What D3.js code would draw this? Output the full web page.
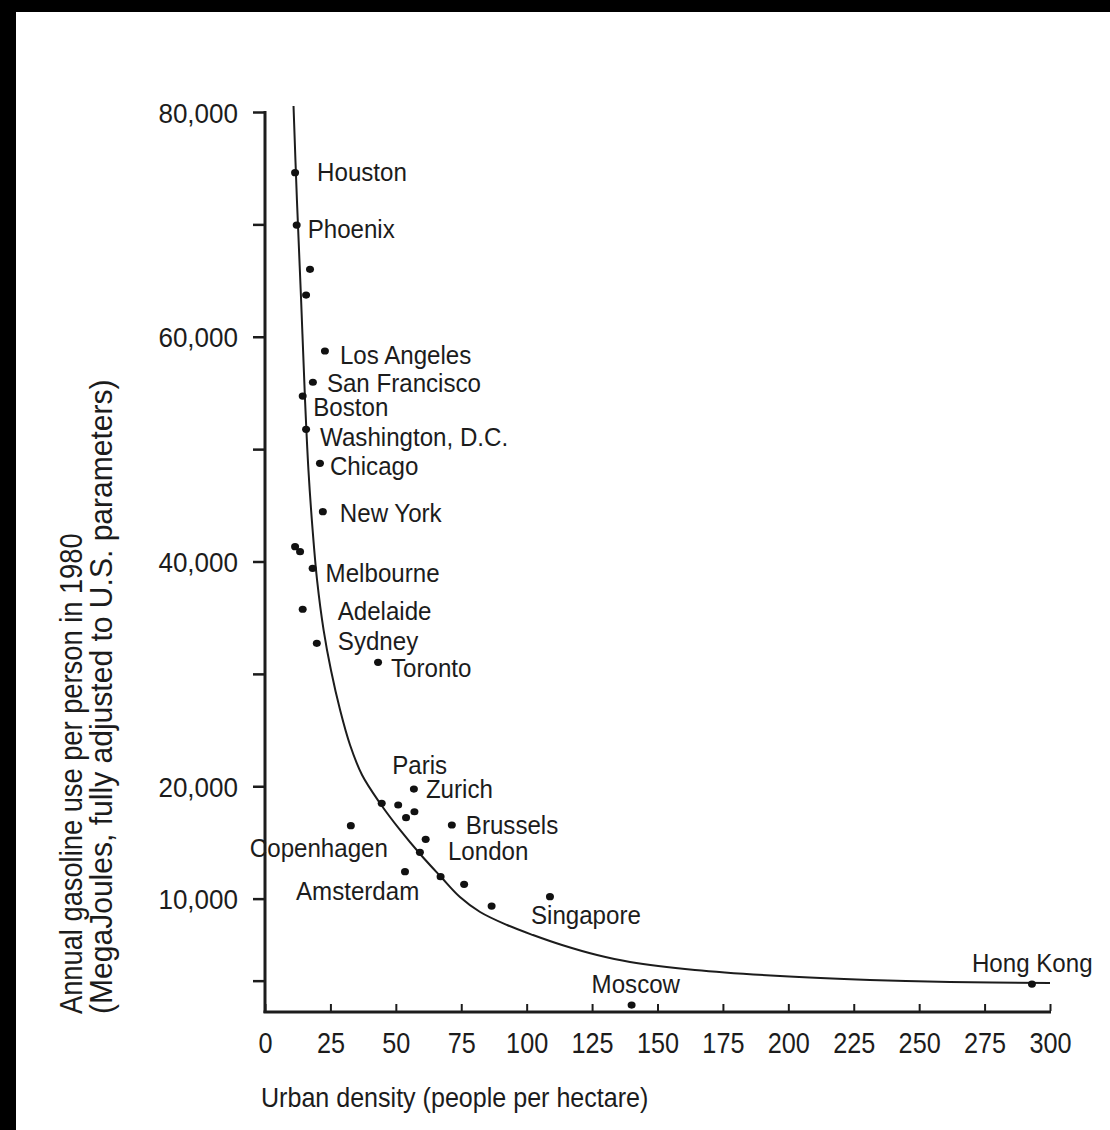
<!DOCTYPE html>
<html><head><meta charset="utf-8">
<script src="https://cdn.jsdelivr.net/npm/d3@7"></script>
<style>html,body{margin:0;padding:0;background:#000;} svg{display:block}</style>
</head><body><svg id="c" width="1110" height="1130"></svg>
<script>
// ---- data ----
const cities = ["Houston","Phoenix","","","Los Angeles","San Francisco","Boston","Washington, D.C.","Chicago","New York","","","Melbourne","Adelaide","Sydney","Toronto","","Paris","Zurich","","","Copenhagen","Brussels","","London","Amsterdam","","","","Singapore","Moscow","Hong Kong"];
const density = [11.5,12.1,17.2,15.7,22.9,18.3,14.4,15.7,21.0,22.1,11.5,13.4,18.2,14.4,19.8,43.2,44.6,50.9,56.9,53.9,57.1,32.8,71.4,61.4,59.2,53.5,67.1,76.1,86.6,108.9,140.1,293.1];
const gasoline = [74600,69940,66000,63710,58730,55950,54720,51760,48740,44430,41320,40870,39390,35750,32720,31030,18480,18330,19750,17200,17730,16490,16550,15280,14120,12400,11950,11270,9340,10170,530,2400];
const curveDensity = [10.9,12.2,13.8,15.3,16.6,18.2,19.9,22.4,25.2,28.7,32.5,37.1,43.9,51.6,59.6,67.3,74.5,82.2,92.5,102.4,113.5,126.9,139.5,164.3,196.8,231.2,261.8,300];
const curveGasoline = [80530,72170,63270,54370,48140,42800,38350,33900,30340,26780,23670,21000,18510,16110,13880,11920,10140,8810,7650,6760,5870,4980,4360,3650,3110,2760,2580,2490];
const xTicks = [0,25,50,75,100,125,150,175,200,225,250,275,300];
const yTicks = [80000,70000,60000,50000,40000,30000,20000,10000,2700];
const yTickLabels = ["80,000","","60,000","","40,000","","20,000","10,000",""];
const xTitle = "Urban density (people per hectare)";
const yTitle1 = "Annual gasoline use per person in 1980";
const yTitle2 = "(MegaJoules, fully adjusted to U.S. parameters)";

// ---- layout ----
const labelOffset = {
  "Houston":[22,8],"Phoenix":[11,13],"Los Angeles":[15,13],"San Francisco":[14,10],
  "Boston":[10.6,20],"Washington, D.C.":[14,17],"Chicago":[10,12],"New York":[17,10],
  "Melbourne":[13,14],"Adelaide":[35,11],"Sydney":[21,7],"Toronto":[13,15],
  "Paris":[-6,-31],"Zurich":[12,9],"Brussels":[14,9],"Copenhagen":[-101,31],
  "London":[28,8],"Amsterdam":[-109,28],"Singapore":[-19,27],"Moscow":[-40,-12],"Hong Kong":[-60,-12]
};
const FONT = "'Liberation Sans', Arial, Helvetica, sans-serif";
const INK = "#1c1c1c";

const svg = d3.select("#c");
svg.append("rect").attr("width",1110).attr("height",1130).attr("fill","#000");
svg.append("rect").attr("x",16).attr("y",12).attr("width",1094).attr("height",1118).attr("fill","#fff");

const x = d3.scaleLinear().domain([0,300]).range([265,1050]);
const y = d3.scaleLinear().domain([0,80000]).range([1011,112]);

// y axis
const yAxis = svg.append("g").attr("transform",`translate(${x(0)},0)`)
  .call(d3.axisLeft(y).tickValues(yTicks).tickSize(12).tickSizeOuter(0).tickFormat((d,i)=>yTickLabels[i]));
yAxis.select(".domain").remove();
yAxis.selectAll(".tick line").attr("stroke",INK).attr("stroke-width",2.5);
yAxis.selectAll(".tick text").attr("x",null).attr("dy",null)
  .attr("transform","translate(-27,10) scale(0.93,1)")
  .attr("font-family",FONT).attr("font-size",28).attr("fill",INK).attr("text-anchor","end");
svg.append("line").attr("x1",x(0)).attr("x2",x(0)).attr("y1",y(80000)-1).attr("y2",y(0)+2)
  .attr("stroke",INK).attr("stroke-width",3);

// x axis
const xAxis = svg.append("g").attr("transform",`translate(0,${y(0)})`)
  .call(d3.axisBottom(x).tickValues(xTicks).tickSize(-7).tickSizeOuter(0));
xAxis.select(".domain").remove();
xAxis.selectAll(".tick line").attr("stroke",INK).attr("stroke-width",2);
xAxis.selectAll(".tick text").attr("y",null).attr("dy",null)
  .attr("transform","translate(0,42) scale(0.87,1)")
  .attr("font-family",FONT).attr("font-size",29).attr("fill",INK).attr("text-anchor","middle");
svg.append("line").attr("x1",x(0)-1.5).attr("x2",x(300)+1).attr("y1",y(0)+1).attr("y2",y(0)+1)
  .attr("stroke",INK).attr("stroke-width",3);

// fitted curve
const line = d3.line().x(d=>x(d[0])).y(d=>y(d[1])).curve(d3.curveCatmullRom.alpha(0.5));
svg.append("path").datum(curveDensity.map((d,i)=>[d,curveGasoline[i]]))
  .attr("d",line).attr("fill","none").attr("stroke",INK).attr("stroke-width",2);

// points
const pts = cities.map((c,i)=>({name:c,d:density[i],g:gasoline[i]}));
svg.append("g").selectAll("ellipse").data(pts).join("ellipse")
  .attr("cx",d=>x(d.d)).attr("cy",d=>y(d.g)).attr("rx",4).attr("ry",3.6).attr("fill","#111");

// labels
svg.append("g").selectAll("text").data(pts.filter(d=>d.name)).join("text")
  .attr("transform",d=>{const o=labelOffset[d.name]||[8,8];return `translate(${x(d.d)+o[0]},${y(d.g)+o[1]}) scale(0.91,1)`;})
  .attr("font-family",FONT).attr("font-size",26.5).attr("fill",INK).text(d=>d.name);

// axis titles
svg.append("text").attr("transform","translate(261,1107) scale(0.88,1)")
  .attr("font-family",FONT).attr("font-size",28.5).attr("fill",INK).text(xTitle);
svg.append("text").attr("transform","translate(82,1014) rotate(-90) scale(0.88,1)")
  .attr("font-family",FONT).attr("font-size",31).attr("fill",INK).text(yTitle1);
svg.append("text").attr("transform","translate(112,1014) rotate(-90) scale(0.97,1)")
  .attr("font-family",FONT).attr("font-size",31).attr("fill",INK).text(yTitle2);
</script></body></html>
